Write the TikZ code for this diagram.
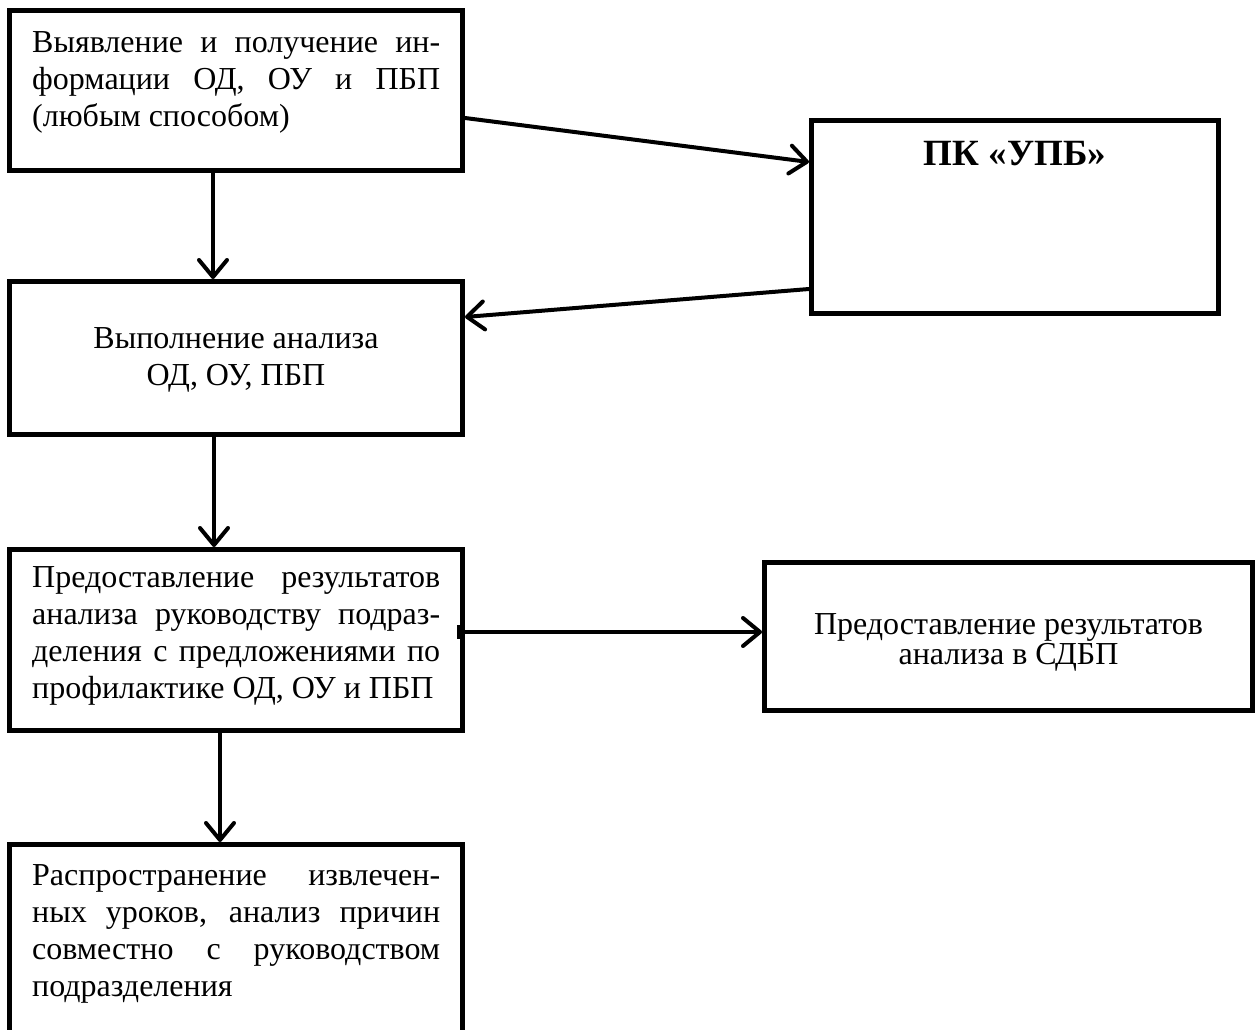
\documentclass[tikz,border=0pt]{standalone}
\usepackage{fontspec}
\setmainfont{Liberation Serif}
\usetikzlibrary{arrows.meta}
\begin{document}
\begin{tikzpicture}[x=1pt,y=-1pt,
  box/.style={draw, line width=5pt, inner sep=0pt},
  txt/.style={inner sep=0pt, font=\fontsize{32}{37}\selectfont, align=left},
  arr/.style={line width=4pt, -{Straight Barb[length=17pt,width=28pt,round]}},
]
\useasboundingbox (0,0) rectangle (1256,1030);
\clip (0,0) rectangle (1256,1030);

% boxes
\node[box, minimum width=453pt, minimum height=160pt] (A) at (236,90.5) {};
\node[box, minimum width=407pt, minimum height=193pt] (B) at (1015,217) {};
\node[box, minimum width=453pt, minimum height=153pt] (C) at (236,358) {};
\node[box, minimum width=453pt, minimum height=181pt] (D) at (236,640) {};
\node[box, minimum width=488pt, minimum height=148pt] (E) at (1008.5,636.5) {};
\node[box, minimum width=453pt, minimum height=240pt] (F) at (236,964.5) {};

% texts (base anchor = baseline of the last line)
\node[txt, anchor=base west] (tA) at (32,127)
  {\makebox[408pt][s]{Выявление и получение ин-}\\
   \makebox[408pt][s]{формации ОД, ОУ и ПБП}\\
   (любым способом)};
\node[inner sep=0pt, font=\bfseries\fontsize{37}{40}\selectfont, anchor=base] (tB) at (1015,165) {ПК «УПБ»};
\node[txt, align=center, anchor=base] (tC) at (236,385) {Выполнение анализа\\ОД, ОУ, ПБП};
\node[txt, anchor=base west] (tD) at (32,698)
  {\makebox[408pt][s]{Предоставление результатов}\\
   \makebox[408pt][s]{анализа руководству подраз-}\\
   \makebox[408pt][s]{деления с предложениями по}\\
   профилактике ОД, ОУ и ПБП};
\node[txt, align=center, font=\fontsize{32}{27}\selectfont, anchor=base] (tE) at (1008.5,664)
  {Предоставление результатов\\анализа в СДБП};
\node[txt, anchor=base west] (tF) at (32,996)
  {\makebox[408pt][s]{Распространение извлечен-}\\
   \makebox[408pt][s]{ных уроков, анализ причин}\\
   \makebox[408pt][s]{совместно с руководством}\\
   подразделения};

% connectors
\draw[arr] ([yshift=-27.5pt]A.east) -- ([yshift=55pt]B.west);
\draw[arr] ([yshift=-72pt]B.west) -- ([yshift=41pt]C.east);
\draw[arr] ([xshift=-23pt]A.south) -- ([xshift=-23pt]C.north);
\draw[arr] ([xshift=-22pt]C.south) -- ([xshift=-22pt]D.north);
\draw[arr] ([xshift=-16pt]D.south) -- ([xshift=-16pt]F.north);
\coordinate (dE) at ([yshift=8pt]D.east);
\node[fill, inner sep=0pt, minimum width=8pt, minimum height=14pt, anchor=east] (tab) at (dE) {};
\draw[arr] (dE) -- (dE -| E.west);
\end{tikzpicture}
\end{document}
